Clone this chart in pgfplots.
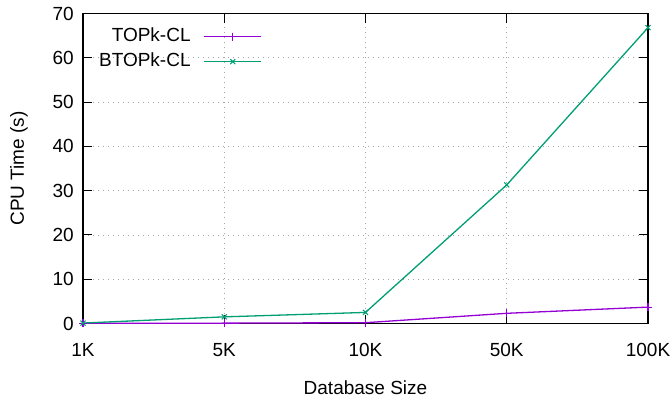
\documentclass[border=0pt]{standalone}
\usepackage{fontspec}
\setmainfont{Liberation Sans}
\usepackage{pgfplots}
\pgfplotsset{compat=1.18}
\definecolor{gpPurple}{RGB}{148,0,211}
\definecolor{gpGreen}{RGB}{0,158,115}
\begin{document}
\fontsize{19bp}{22bp}\selectfont
\begin{tikzpicture}
\begin{axis}[
  at={(0,0)}, anchor=south west,
  scale only axis, width=565bp, height=310bp,
  xmin=0, xmax=4, ymin=0, ymax=70,
  xtick={0,1,2,3,4}, xticklabels={1K,5K,10K,50K,100K},
  ytick={0,10,...,70},
  tick align=inside,
  major tick length=9bp,
  grid=major,
  major grid style={gray!70, line width=0.8bp, dash pattern=on 1bp off 4bp},
  axis line style={line width=1.1bp},
  every tick/.style={black, line width=1.1bp},
  /pgf/number format/assume math mode=true,
  tick label style={font=\fontsize{19bp}{22bp}\selectfont},
  xticklabel style={yshift=-13bp},
  yticklabel style={xshift=-2.7bp},
  xlabel={Database Size}, ylabel={CPU Time (s)},
  xlabel style={at={(axis description cs:0.5,0)}, anchor=base, yshift=-70.5bp, font=\fontsize{19bp}{22bp}\selectfont},
  ylabel style={at={(axis description cs:0,0.5)}, anchor=base, rotate=0, xshift=0bp, yshift=59bp, font=\fontsize{19bp}{22bp}\selectfont},
  legend plot pos=right,
  legend cell align=right,
  legend style={draw=none, fill=none, inner sep=0pt,
    at={(axis description cs:0.317,0.955)}, anchor=north east,
    font=\fontsize{19bp}{22bp}\selectfont,
    nodes={inner sep=0pt, text height=14bp, text depth=4bp},
    row sep=7bp},
  legend image code/.code={\path (0bp,0bp); \draw[mark repeat=2,mark phase=2,#1] plot coordinates {(13bp,0bp) (41.5bp,0bp) (70bp,0bp)};},
]
\addplot[gpPurple, line width=1.3bp, mark=+, mark size=4bp, mark options={solid, line width=1.1bp}]
  coordinates {(0,0.02) (1,0.08) (2,0.18) (3,2.3) (4,3.7)};
\addlegendentry{TOPk-CL}
\addplot[gpGreen, line width=1.3bp, mark=x, mark size=3.5bp, mark options={solid, line width=1.1bp}]
  coordinates {(0,0.1) (1,1.5) (2,2.5) (3,31.3) (4,66.8)};
\addlegendentry{BTOPk-CL}
\end{axis}
\pgfresetboundingbox
\useasboundingbox (-83bp,-76.5bp) rectangle (589bp,323.5bp);
\end{tikzpicture}
\end{document}
